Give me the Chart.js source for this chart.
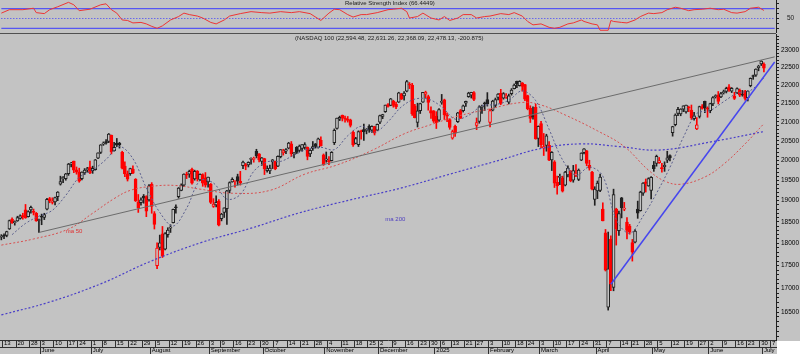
<!DOCTYPE html>
<html>
<head>
<meta charset="utf-8">
<title>NASDAQ 100</title>
<script src="https://cdn.jsdelivr.net/npm/chart.js@4.4.1/dist/chart.umd.min.js"></script>
<style>
  body { margin: 0; background: #c3c3c3; }
  #wrap { position: relative; width: 800px; height: 354px; overflow: hidden; }
  canvas { position: absolute; left: 0; }
  #rsi { top: 0; }
  #price { top: 33px; }
</style>
</head>
<body>
<div id="wrap">
  <canvas id="rsi" width="800" height="33"></canvas>
  <canvas id="price" width="800" height="321"></canvas>
</div>
<script>
const BG = '#c3c3c3';
const INK = '#202020';
const RED = '#ff0000';
const FONT = '"Liberation Sans", Arial, sans-serif';

// trading calendar (categories)
const firstDay = '2024-05-10';
const lastDay = '2025-07-08';
const holidays = ['2024-05-27', '2024-06-19', '2024-07-04', '2024-09-02', '2024-11-28', '2024-12-25',
  '2025-01-01', '2025-01-09', '2025-01-20', '2025-02-17', '2025-04-18', '2025-05-26', '2025-06-19', '2025-07-04'];
const monthNames = ['January', 'February', 'March', 'April', 'May', 'June', 'July',
  'August', 'September', 'October', 'November', 'December'];

// daily candles, one row per month
const opens = [
  18140, 18180, 18180, 18330, 18560, 18480, 18520, 18580, 18640, 18780, 18620, 18780, 18740, 18700, 18530,
  18620, 18600, 18800, 19050, 18960, 18970, 19100, 19400, 19530, 19540, 19660, 19900, 19980, 19760, 19700, 19540, 19680, 19760, 19830,
  19740, 19760, 20050, 20200, 20410, 20480, 20480, 20640, 20240, 20440, 20430, 20200, 19850, 19660, 19660, 19780, 19520, 18960, 18950, 19110, 19100, 19020,
  19400, 18690, 17500, 17910, 18220, 17870, 18200, 18350, 18480, 18850, 19100, 19250, 19380, 19640, 19650, 19770, 19530, 19730, 19510, 19640, 19560, 19460,
  19400, 18860, 18900, 18990, 18570, 18720, 18810, 19250, 19460, 19470, 19590, 19470, 19860, 19890, 19880, 20020, 20020, 20230, 20160, 19970,
  20040, 19740, 19730, 19960, 19970, 19850, 20090, 20190, 20230, 20310, 20420, 20170, 20330, 20250, 20300, 20330, 20330, 20160, 20300, 20420, 20330, 20510, 20140,
  20000, 19990, 19990, 20450, 20820, 21070, 21170, 21090, 21070, 21050, 20720, 20430, 20400, 20760, 20790, 20770, 20880, 20780, 20870, 20780,
  20990, 21140, 21270, 21460, 21440, 21560, 21470, 21530, 21750, 21700, 21830, 22010, 22000, 21430, 20980, 21300, 21530, 21750, 21680, 21300, 21290,
  21150, 21040, 21520, 21590, 21170, 21060, 20570, 20880, 21000, 21300, 21300, 21500, 21680, 21720, 21790, 20900, 21010, 21390, 21480, 21600,
  20980, 21310, 21440, 21660, 21770, 21640, 21680, 21530, 21760, 21900, 22100, 21980, 22060, 22010, 21710, 21370, 21150, 21390, 20560,
  20950, 20310, 20380, 20380, 20010, 19960, 19450, 19570, 19560, 19380, 19630, 19720, 19500, 19620, 19520, 20000, 20190, 20240, 19870, 19700, 19030,
  19240, 19250, 18800, 18240, 16600, 18100, 17020, 18800, 18290, 19070, 18800, 18490, 18400, 18020, 18030, 18800, 18760, 19180, 19460, 19360, 19250,
  19880, 19920, 19940, 19800, 19840, 20000, 20120, 20710, 20920, 21220, 21210, 21340, 21260, 21390, 21310, 21080, 20810, 21140, 21410, 21550, 21350,
  21300, 21480, 21680, 21720, 21670, 21790, 21820, 21950, 21830, 21700, 21780, 21850, 21730, 21830, 21650, 21980, 22240, 22280, 22490, 22600,
  22594.48
];
const highs = [
  18200, 18220, 18280, 18540, 18590, 18520, 18630, 18660, 18700, 18910, 18760, 18870, 18800, 18720, 18560,
  18680, 18700, 19060, 19080, 19070, 19090, 19220, 19600, 19590, 19670, 19920, 19950, 19980, 19830, 19800, 19710, 19790, 19820, 19980,
  19850, 20020, 20190, 20400, 20470, 20530, 20690, 20650, 20460, 20560, 20460, 20230, 19960, 19730, 19800, 19860, 19540, 19150, 19070, 19150, 19120, 19390,
  19440, 18740, 18010, 18190, 18390, 18250, 18360, 18430, 18800, 18900, 19320, 19410, 19660, 19700, 19750, 19800, 19750, 19740, 19660, 19660, 19690, 19580,
  19420, 19050, 19120, 19030, 18700, 18830, 19250, 19460, 19560, 19500, 19650, 19720, 19980, 19920, 19960, 20060, 20080, 20280, 20170, 20070,
  20050, 19860, 19880, 20020, 19980, 20110, 20270, 20280, 20300, 20460, 20480, 20200, 20350, 20390, 20400, 20450, 20340, 20270, 20480, 20430, 20570, 20600, 20160,
  20210, 20090, 20220, 20810, 21100, 21150, 21180, 21150, 21140, 21070, 20750, 20590, 20760, 20780, 20940, 20820, 20920, 20890, 20880, 20940,
  21180, 21200, 21450, 21490, 21630, 21580, 21530, 21800, 21770, 21820, 22130, 22070, 22050, 21470, 21500, 21500, 21800, 21830, 21720, 21400, 21300,
  21270, 21350, 21740, 21610, 21240, 21080, 20780, 20910, 21250, 21330, 21450, 21560, 21800, 21800, 21820, 21100, 21430, 21450, 21530, 21790,
  21340, 21580, 21640, 21760, 21880, 21790, 21760, 21750, 21900, 22030, 22110, 22120, 22070, 22020, 21720, 21430, 21400, 21470, 20890,
  21010, 20690, 20670, 20480, 20220, 19990, 19600, 19650, 19600, 19720, 19860, 19740, 19870, 19890, 19780, 20190, 20300, 20250, 20000, 19720, 19340,
  19480, 19650, 18950, 18320, 18260, 18170, 19280, 18820, 18750, 19080, 18960, 18600, 18440, 18090, 18320, 18990, 19230, 19440, 19530, 19560, 19590,
  19970, 20130, 20070, 19920, 19960, 20230, 20140, 20880, 21210, 21390, 21350, 21430, 21450, 21420, 21450, 21250, 21110, 21420, 21460, 21560, 21400,
  21500, 21680, 21730, 21820, 21800, 21860, 21940, 22010, 21930, 21800, 21920, 21890, 21850, 21850, 21840, 22200, 22280, 22460, 22560, 22690,
  22631.26
];
const lows = [
  18080, 18110, 18150, 18320, 18460, 18420, 18510, 18560, 18560, 18580, 18610, 18700, 18660, 18510, 18250,
  18430, 18550, 18780, 18950, 18920, 18900, 19000, 19380, 19440, 19500, 19620, 19830, 19690, 19650, 19450, 19510, 19640, 19700, 19660,
  19670, 19750, 20040, 20170, 20380, 20410, 20450, 20160, 20230, 20350, 20310, 19780, 19590, 19480, 19620, 19660, 18980, 18720, 18890, 18940, 18620, 18990,
  18700, 18330, 17430, 17850, 17680, 17850, 18140, 18250, 18470, 18700, 19060, 19240, 19350, 19540, 19570, 19400, 19500, 19480, 19490, 19350, 19330, 19330,
  18930, 18840, 18850, 18400, 18520, 18600, 18440, 19190, 19450, 19330, 19380, 19380, 19790, 19760, 19830, 19900, 19950, 20060, 19960, 19870,
  19640, 19700, 19660, 19790, 19760, 19840, 20060, 20130, 20170, 20290, 20090, 20060, 20170, 20220, 20230, 20280, 20010, 20090, 20250, 20310, 20310, 20360, 19870,
  19950, 19890, 19980, 20400, 20800, 21030, 21020, 20990, 20990, 20860, 20350, 20420, 20350, 20540, 20510, 20680, 20720, 20720, 20650, 20770,
  20950, 21080, 21250, 21390, 21430, 21390, 21350, 21520, 21600, 21580, 21810, 21900, 21170, 21100, 20860, 21220, 21520, 21650, 21310, 21090, 20980,
  20820, 21010, 21470, 21060, 21000, 20800, 20540, 20610, 20980, 21090, 21260, 21410, 21660, 21640, 21570, 20790, 20960, 21220, 21300, 21420,
  20860, 21290, 21380, 21590, 21460, 21610, 21630, 21480, 21720, 21890, 21930, 21970, 21830, 21570, 21320, 20980, 21070, 20540, 20350,
  20320, 20120, 20230, 19990, 19740, 19320, 19160, 19390, 19210, 19360, 19580, 19460, 19450, 19590, 19490, 19990, 20160, 19860, 19750, 19260, 18890,
  19050, 19220, 18520, 17380, 16540, 16950, 16950, 17960, 18180, 18590, 18760, 18100, 18210, 17600, 18010, 18580, 18750, 19130, 19210, 19350, 19040,
  19720, 19850, 19920, 19700, 19720, 19940, 19980, 20620, 20890, 21160, 21160, 21270, 21230, 21270, 21060, 21040, 20790, 21100, 21340, 21240, 21120,
  21240, 21430, 21640, 21480, 21650, 21750, 21780, 21820, 21790, 21600, 21760, 21680, 21690, 21580, 21560, 21950, 22160, 22240, 22400, 22550,
  22368.09
];
const closes = [
  18161, 18162, 18269, 18530, 18473, 18497, 18600, 18640, 18620, 18598, 18740, 18840, 18720, 18520, 18540,
  18610, 18670, 19035, 19000, 18990, 19075, 19210, 19465, 19575, 19660, 19905, 19908, 19752, 19700, 19474, 19701, 19751, 19789, 19683,
  19797, 20011, 20186, 20392, 20440, 20440, 20675, 20211, 20331, 20386, 20398, 19799, 19655, 19523, 19787, 19676, 18997, 18830, 19023, 19059, 18751, 19362,
  18861, 18440, 17895, 18014, 17708, 18222, 18303, 18356, 18793, 18832, 19307, 19381, 19652, 19626, 19721, 19430, 19720, 19540, 19645, 19424, 19380, 19575,
  18960, 18920, 18960, 18421, 18681, 18829, 19239, 19439, 19522, 19475, 19478, 19436, 19953, 19850, 19945, 20030, 20022, 20118, 20009, 20061,
  19782, 19785, 19800, 20011, 19780, 20100, 20270, 20240, 20272, 20439, 20160, 20180, 20200, 20361, 20400, 20400, 20100, 20250, 20350, 20350, 20550, 20370, 19890,
  20033, 19962, 20200, 20770, 21100, 21117, 21100, 21071, 21036, 20900, 20394, 20554, 20740, 20730, 20740, 20776, 20777, 20880, 20700, 20930,
  21165, 21190, 21450, 21410, 21622, 21442, 21400, 21781, 21608, 21780, 22097, 22000, 21209, 21110, 21290, 21490, 21799, 21798, 21518, 21228, 21012,
  20975, 21326, 21550, 21180, 21150, 20847, 20740, 20700, 21240, 21090, 21430, 21550, 21780, 21800, 21600, 20980, 21400, 21400, 21480, 21480,
  21300, 21560, 21600, 21750, 21490, 21760, 21700, 21700, 21860, 22000, 22030, 22100, 21960, 21610, 21350, 21090, 21130, 20550, 20880,
  20400, 20350, 20630, 20000, 20200, 19430, 19360, 19590, 19230, 19700, 19800, 19480, 19740, 19680, 19750, 20180, 20290, 19920, 19800, 19280, 19280,
  19430, 19580, 18520, 17400, 17430, 17090, 19150, 18340, 18690, 18830, 18820, 18300, 18260, 17800, 18280, 18700, 19210, 19430, 19420, 19540, 19570,
  19790, 20100, 19990, 19790, 19870, 20060, 20060, 20870, 21180, 21330, 21340, 21430, 21450, 21370, 21100, 21160, 20920, 21410, 21360, 21370, 21340,
  21490, 21650, 21700, 21550, 21760, 21800, 21910, 21860, 21910, 21630, 21900, 21720, 21720, 21630, 21830, 22190, 22240, 22450, 22530, 22680,
  22478.13
];

// overlays: (trading-day index, value)
const maShortIdx = [4, 9, 14, 19, 24, 29, 34, 39, 44, 49, 54, 59, 64, 69, 74, 79, 84, 89, 94, 99,
  104, 109, 114, 119, 124, 129, 134, 139, 144, 149, 154, 159, 164, 169, 174, 179, 184, 189, 194, 199,
  204, 209, 214, 219, 224, 229, 234, 239, 244, 249, 254, 259, 264, 269, 274, 279, 284];
const maShortVal = [18200, 18460, 18630, 18770, 19130, 19570, 19750, 20020, 20350, 20040, 19310, 18720, 18400, 18820, 19490, 19430, 19040, 19150, 19720, 19960,
  19970, 20130, 20280, 20330, 20270, 20630, 20880, 20720, 21000, 21400, 21610, 21610, 21400, 21070, 21170, 21430, 21460, 21580, 21840, 21570,
  20800, 20010, 19620, 19830, 19600, 18550, 18230, 18630, 19180, 19820, 20590, 21220, 21300, 21540, 21770, 21850, 22200];
const ma50Idx = [0, 12, 25, 34, 42, 48, 56, 65, 74, 86, 100, 113, 125, 138, 150, 159, 170, 181, 194, 201, 210, 222, 232, 241, 247, 253, 262, 269, 277, 284];
const ma50Val = [17960, 18100, 18330, 18700, 19050, 19250, 19350, 19370, 19280, 19180, 19250, 19650, 19880, 20250, 20680, 20900, 21150, 21330, 21520, 21450,
  21180, 20760, 20350, 19750, 19480, 19400, 19580, 19900, 20420, 20950];
const ma200Idx = [0, 18, 37, 55, 74, 93, 111, 130, 149, 167, 186, 201, 216, 230, 245, 265, 284];
const ma200Val = [16440, 16710, 17100, 17580, 18010, 18350, 18710, 19020, 19310, 19650, 20010, 20300, 20420, 20350, 20260, 20480, 20740];
const trendGrayIdx = [14, 288];
const trendGrayVal = [18250, 22800];
const trendBlueIdx = [227, 288];
const trendBlueVal = [17090, 22650];

const rsiIdx = [0, 3, 8, 12, 13, 16, 18, 21, 25, 27, 29, 33, 37, 39, 41, 43, 45, 47, 49, 52,
  54, 56, 58, 60, 63, 66, 68, 70, 73, 75, 78, 80, 83, 85, 89, 93, 97, 100, 104, 108,
  111, 115, 119, 122, 124, 126, 129, 131, 134, 136, 140, 144, 146, 149, 151, 152, 155, 157, 160, 163,
  165, 167, 170, 172, 175, 177, 180, 182, 186, 189, 191, 194, 196, 198, 201, 204, 206, 208, 211, 213,
  216, 217, 220, 222, 223, 226, 227, 228, 231, 233, 236, 238, 241, 243, 246, 248, 251, 253, 256, 258,
  261, 264, 267, 269, 272, 274, 277, 279, 282, 284];
const rsiVal = [61, 68, 68, 71, 62, 60, 68, 74, 83, 78, 66, 69, 78, 80, 68, 61, 47, 46, 41, 42,
  39, 34, 30, 35, 47, 54, 61, 58, 55, 51, 42, 39, 47, 55, 60, 64, 62, 61, 64, 62,
  64, 60, 46, 61, 69, 68, 58, 53, 58, 58, 62, 68, 69, 71, 64, 51, 54, 61, 51, 47,
  54, 46, 51, 58, 58, 51, 54, 55, 60, 58, 62, 55, 44, 37, 39, 32, 30, 32, 39, 41,
  47, 44, 39, 37, 26, 26, 46, 44, 42, 41, 47, 54, 61, 60, 62, 68, 73, 71, 66, 68,
  69, 71, 68, 69, 62, 61, 64, 71, 73, 66.4449];
const rsiLevels = [30, 50, 70];
const rsiTickMarks = [30, 40, 50, 60, 70, 80];
const rsiLabelled = [50];

const priceTicks = [16500, 17000, 17500, 18000, 18500, 19000, 19500, 20000, 20500, 21000, 21500, 22000, 22500, 23000];

const noteText = ['ma 50', 'ma 200'];
const noteIdx = [24, 143];
const notePrice = [18270, 18560];
const noteColor = ['#e03030', '#5040c0'];

const rsiTitle = 'Relative Strength Index (66.4449)';
const priceTitle = '(NASDAQ 100 (22,594.48, 22,631.26, 22,368.09, 22,478.13, -200.875)';

// build the category list
const dates = [];
for (let t = Date.parse(firstDay); t <= Date.parse(lastDay); t += 86400000) {
  const d = new Date(t);
  const key = d.toISOString().slice(0, 10);
  if (d.getUTCDay() === 0 || d.getUTCDay() === 6 || holidays.includes(key)) continue;
  dates.push(key);
}
if (opens.length !== 285 || highs.length !== 285 || lows.length !== 285 || closes.length !== 285) {
  throw new Error('lengths ' + [opens.length, highs.length, lows.length, closes.length, dates.length].join(','));
}

const weekStart = dates.map((k, i) => {
  if (i === 0) return false;
  const a = new Date(dates[i - 1]), b = new Date(k);
  return b.getUTCDay() < a.getUTCDay() || (b - a) >= 7 * 86400000;
});
const monthStart = dates.map((k, i) => i > 0 && k.slice(5, 7) !== dates[i - 1].slice(5, 7));
const monthLabel = k => {
  const m = +k.slice(5, 7) - 1;
  return m === 0 ? k.slice(0, 4) : monthNames[m];
};

const pts = (idx, vals) => idx.map((i, k) => ({ x: dates[i], y: vals[k] }));

const candleColor = closes.map((c, i) => (i > 0 && c < closes[i - 1]) ? RED : INK);
const bodyFill = closes.map((c, i) => c > opens[i] ? BG : candleColor[i]);

Chart.defaults.font.family = FONT;

// right-hand axis: fixed width, no overflow padding eating the panel
const fixAxis = s => { s.width = 24; s.paddingTop = 0; s.paddingBottom = 0; };

const panelBg = {
  id: 'panelBg',
  beforeDraw(chart, args, opts) {
    const { ctx, width, height, chartArea } = chart;
    ctx.save();
    ctx.fillStyle = BG;
    ctx.fillRect(0, 0, width, height);
    if (opts.corner) {
      ctx.fillStyle = '#ffffff';
      ctx.fillRect(chartArea.right + 1, chartArea.bottom + 1, width, height);
    }
    ctx.restore();
  },
  afterDraw(chart, args, opts) {
    const { ctx, chartArea } = chart;
    ctx.save();
    ctx.font = '6px ' + FONT;
    ctx.textBaseline = 'top';
    ctx.fillStyle = INK;
    ctx.fillText(opts.title, opts.titleX, chartArea.top + opts.titleY);
    if (opts.topLine) {
      ctx.strokeStyle = '#505050';
      ctx.lineWidth = 1;
      ctx.beginPath();
      ctx.moveTo(0, 0.5);
      ctx.lineTo(chartArea.right, 0.5);
      ctx.stroke();
    }
    if (opts.notes) {
      const xs = chart.scales.x, ys = chart.scales.y;
      ctx.textBaseline = 'middle';
      noteText.forEach((t, k) => {
        ctx.fillStyle = noteColor[k];
        ctx.fillText(t, xs.getPixelForValue(noteIdx[k]), ys.getPixelForValue(notePrice[k]));
      });
    }
    ctx.restore();
  }
};

// RSI panel
new Chart(document.getElementById('rsi'), {
  type: 'line',
  data: {
    labels: dates,
    datasets: [
      { data: pts(rsiIdx, rsiVal), borderColor: '#ee3535', borderWidth: 1, pointRadius: 0, order: 1 },
      ...rsiLevels.map(lv => ({
        data: [{ x: dates[0], y: lv }, { x: dates[dates.length - 1], y: lv }],
        borderColor: '#3c3cff', borderWidth: 1, pointRadius: 0,
        borderDash: lv === 50 ? [1, 2] : [], order: 2
      }))
    ]
  },
  options: {
    responsive: false, animation: false, devicePixelRatio: 1,
    layout: { padding: 0 },
    plugins: {
      legend: { display: false }, tooltip: { enabled: false },
      panelBg: { title: rsiTitle, titleX: 345, titleY: 0.5 }
    },
    scales: {
      x: { type: 'category', offset: true, display: false },
      y: {
        position: 'right', min: 20.4, max: 87.8,
        afterFit: fixAxis,
        afterBuildTicks: s => { s.ticks = rsiTickMarks.map(v => ({ value: v })); },
        grid: { drawOnChartArea: false, tickLength: 3, color: INK },
        border: { color: INK },
        ticks: {
          autoSkip: false, padding: 8, color: INK, font: { size: 6.5 },
          callback: v => rsiLabelled.includes(v) ? String(v) : ''
        }
      }
    }
  },
  plugins: [panelBg]
});

// price panel
const dateAxis = (labelOf, flags, weight) => ({
  type: 'category', labels: dates, offset: true, position: 'bottom', weight,
  afterFit: s => { s.height = 7; },
  grid: {
    offset: true, drawOnChartArea: false, tickLength: 7,
    color: c => flags[c.index] ? '#303030' : 'rgba(0,0,0,0)'
  },
  border: { display: true, color: '#303030' },
  ticks: {
    autoSkip: false, maxRotation: 0, minRotation: 0, align: 'start', padding: -7,
    color: '#000', font: { size: 6, lineHeight: 1 },
    callback: (v, i) => flags[i] ? labelOf(dates[i]) : ''
  }
});

new Chart(document.getElementById('price'), {
  type: 'bar',
  data: {
    labels: dates,
    datasets: [
      { type: 'line', data: pts(trendBlueIdx, trendBlueVal), borderColor: '#4646ee', borderWidth: 1.5, pointRadius: 0, order: 1 },
      { type: 'line', data: pts(trendGrayIdx, trendGrayVal), borderColor: '#6c6c6c', borderWidth: 1, pointRadius: 0, order: 1 },
      { type: 'line', data: pts(maShortIdx, maShortVal), borderColor: '#5b5f8e', borderWidth: 1, borderDash: [2, 2], pointRadius: 0, tension: 0.35, order: 2 },
      { type: 'line', data: pts(ma50Idx, ma50Val), borderColor: '#d85050', borderWidth: 1, borderDash: [2, 2], pointRadius: 0, tension: 0.4, order: 2 },
      { type: 'line', data: pts(ma200Idx, ma200Val), borderColor: '#4a3fc8', borderWidth: 1.2, borderDash: [2, 2], pointRadius: 0, tension: 0.4, order: 2 },
      {
        data: lows.map((l, i) => [l, highs[i]]), backgroundColor: candleColor,
        barThickness: 1, grouped: false, order: 6
      },
      {
        data: opens.map((o, i) => [o, closes[i]]), backgroundColor: bodyFill, borderColor: candleColor,
        borderWidth: 1, borderSkipped: false, barThickness: 3, minBarLength: 1, grouped: false, order: 5
      }
    ]
  },
  options: {
    responsive: false, animation: false, devicePixelRatio: 1,
    layout: { padding: { top: 1, left: 0, right: 0, bottom: 0 } },
    plugins: {
      legend: { display: false }, tooltip: { enabled: false },
      panelBg: { corner: true, topLine: true, notes: true, title: priceTitle, titleX: 295, titleY: 1.5 }
    },
    scales: {
      x: dateAxis(k => String(+k.slice(8, 10)), weekStart, 0),
      x2: dateAxis(monthLabel, monthStart, 1),
      y: {
        type: 'logarithmic', position: 'right', bounds: 'data', min: 15925, max: 23470,
        afterFit: fixAxis,
        afterBuildTicks: s => {
          const t = [];
          for (let v = 16000; v <= 23400; v += 100) if (v >= s.min && v <= s.max) t.push({ value: v });
          s.ticks = t;
        },
        grid: { drawOnChartArea: false, tickLength: 3, color: INK },
        border: { color: INK },
        ticks: {
          autoSkip: false, padding: 2, color: '#000', font: { size: 6.5 },
          callback: v => priceTicks.includes(v) ? String(v) : ''
        }
      }
    }
  },
  plugins: [panelBg]
});
</script>
</body>
</html>
